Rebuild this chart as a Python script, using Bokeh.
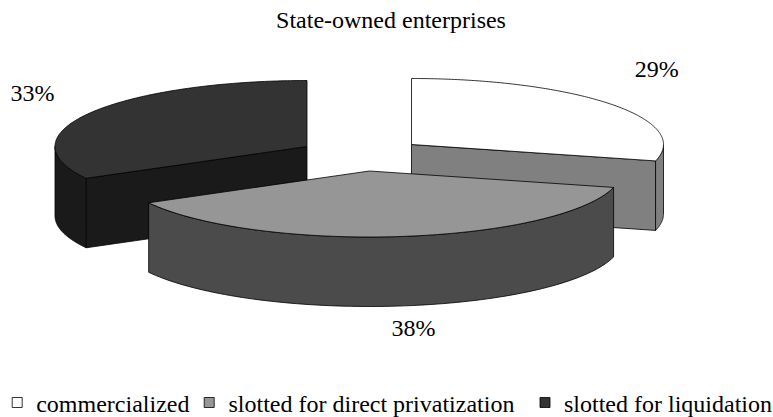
import numpy as np
from bokeh.plotting import figure
from bokeh.models import Range1d
from bokeh.core.properties import value
from bokeh.embed import file_html
from bokeh.resources import INLINE

title = "State-owned enterprises"
categories = ["commercialized", "slotted for direct privatization", "slotted for liquidation"]
shares = [29, 38, 33]
share_labels = ["29%", "38%", "33%"]

top_colors = ["#ffffff", "#969696", "#333333"]
side_colors = ["#808080", "#4b4b4b", "#1a1a1a"]
centers = [(411, 144), (369, 170.5), (306.5, 146)]
label_pos = [(656.3, 68), (413, 327), (32, 92)]
RX, RY, DEPTH = 252, 66, 69.5
FONT = value("Liberation Serif")
FS = "24px"
W, H = 773, 417

p = figure(width=W, height=H, output_backend="svg", toolbar_location=None,
           x_range=Range1d(0, W), y_range=Range1d(H, 0),
           min_border=0, background_fill_color="white", border_fill_color="white")
p.axis.visible = False
p.grid.visible = False
p.outline_line_color = None

edges = np.cumsum([0] + shares) / sum(shares) * 2 * np.pi

def pt(c, a):
    return c[0] + RX * np.sin(a), c[1] - RY * np.cos(a)

def add(xs, ys, color):
    p.patch(list(xs), list(ys), fill_color=color, line_color="black", line_width=0.8)

def slice_pie(i):
    c, a0, a1 = centers[i], edges[i], edges[i + 1]
    if i == 0:
        x1, y1 = pt(c, a1)
        add([c[0], x1, x1, c[0]], [c[1], y1, y1 + DEPTH, c[1] + DEPTH], side_colors[i])
    if i == 2:
        x0, y0 = pt(c, a0)
        add([c[0], x0, x0, c[0]], [c[1], y0, y0 + DEPTH, c[1] + DEPTH], side_colors[i])
    lo, hi = max(a0, np.pi / 2), min(a1, 3 * np.pi / 2)
    if hi > lo:
        t = np.linspace(lo, hi, 90)
        x, y = pt(c, t)
        add(np.r_[x, x[::-1]], np.r_[y, (y + DEPTH)[::-1]], side_colors[i])
    t = np.linspace(a0, a1, 160)
    x, y = pt(c, t)
    add(np.r_[c[0], x], np.r_[c[1], y], top_colors[i])

for i in [0, 2, 1]:
    slice_pie(i)

p.text([q[0] for q in label_pos], [q[1] for q in label_pos], text=share_labels,
       text_font=FONT, text_font_size=FS, text_color="black",
       text_align="center", text_baseline="middle")
p.text([390.5], [19], text=[title], text_font=FONT, text_font_size=FS,
       text_color="black", text_align="center", text_baseline="middle")

legend_swatch_x = [16.7, 208.7, 544.5]
legend_text_x = [35.7, 228, 563.5]
legend_y = 403
p.rect(legend_swatch_x, [legend_y - 1] * 3, width=10, height=10, width_units="screen",
       height_units="screen", fill_color=["#ffffff", "#969696", "#333333"],
       line_color="black", line_width=0.8)
p.text(legend_text_x, [legend_y] * 3, text=categories, text_font=FONT,
       text_font_size=FS, text_color="black", text_align="left", text_baseline="middle")

open("out.html", "w").write(file_html(p, INLINE))
